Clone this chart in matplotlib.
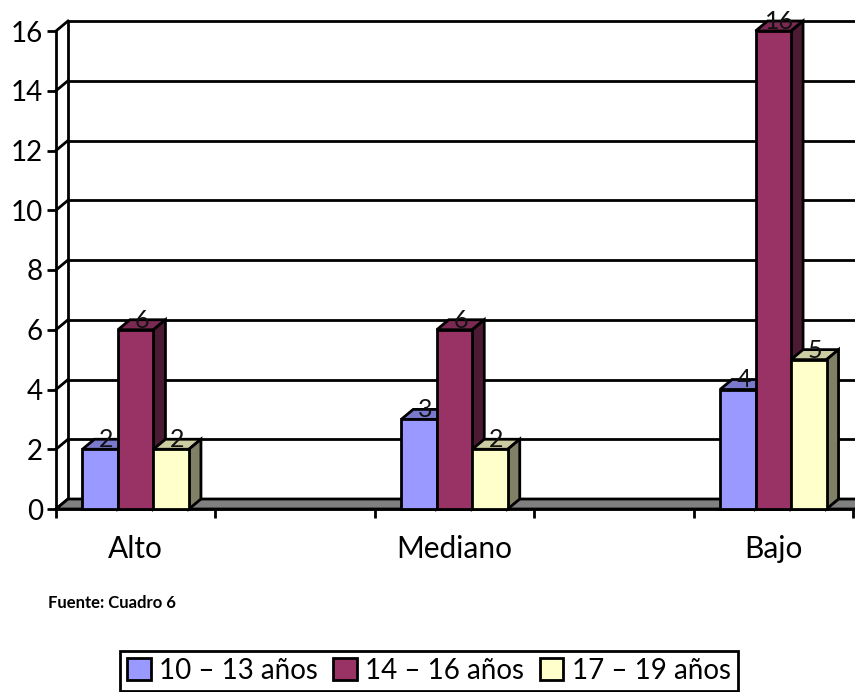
#!/usr/bin/python

import matplotlib
matplotlib.use('Agg')
import matplotlib.pyplot as plt
from matplotlib.patches import Patch, Polygon

plt.rcParams['font.family'] = ['Lato', 'DejaVu Sans']

categories = ['Alto', '', 'Mediano', '', 'Bajo']
series_names = ['10 – 13 años', '14 – 16 años', '17 – 19 años']
values_10_13 = [2, 0, 3, 0, 4]
values_14_16 = [6, 0, 6, 0, 16]
values_17_19 = [2, 0, 2, 0, 5]
y_ticks = [0, 2, 4, 6, 8, 10, 12, 14, 16]

front_colors = ['#9999FF', '#993366', '#FFFFCC']
top_colors = ['#7A7ACC', '#7A2952', '#CCCCA3']
side_colors = ['#5C5C99', '#4D1A33', '#808066']

W, H = 855, 692
LEFT, RIGHT, BOTTOM, TOP = 56, 855, 509, 31
LW = 2.0

XMAX = (RIGHT - LEFT) / 159.4
DX = 12 / 159.4    # depth of the 3D effect, in data units
DY = 10 / 29.875
BAR_W = 35.5 / 159.4


def parallelogram(ax, pts, color, z):
    ax.add_patch(Polygon(pts, closed=True, facecolor=color, edgecolor='black',
                         linewidth=LW, joinstyle='miter', clip_on=False, zorder=z))


def draw_bar(ax, x, v, i, z):
    x1 = x + BAR_W
    parallelogram(ax, [(x, 0), (x1, 0), (x1, v), (x, v)], front_colors[i], z + 0.2)
    parallelogram(ax, [(x, v), (x1, v), (x1 + DX, v + DY), (x + DX, v + DY)], top_colors[i], z)
    parallelogram(ax, [(x1, 0), (x1 + DX, DY), (x1 + DX, v + DY), (x1, v)], side_colors[i], z + 0.1)


fig = plt.figure(figsize=(W / 100, H / 100), dpi=100)
ax = fig.add_axes([LEFT / W, (H - BOTTOM) / H, (RIGHT - LEFT) / W, (BOTTOM - TOP) / H])
ax.set_xlim(0, XMAX)
ax.set_ylim(0, 16)

for side in ['top', 'right']:
    ax.spines[side].set_visible(False)
for side in ['left', 'bottom']:
    ax.spines[side].set_linewidth(LW)
    ax.spines[side].set_zorder(1)

# back wall, side wall and floor
for t in y_ticks:
    ax.plot([DX, XMAX], [t + DY, t + DY], color='black', lw=LW, clip_on=False, zorder=1)
    ax.plot([0, DX], [t, t + DY], color='black', lw=LW, clip_on=False, zorder=1)
ax.plot([DX, DX], [DY, 16 + DY], color='black', lw=LW, clip_on=False, zorder=1)
parallelogram(ax, [(0, 0), (DX, DY), (XMAX + 0.1, DY), (XMAX + 0.1, 0)], '#808080', 2)

ax.set_yticks(y_ticks)
ax.set_xticks(range(6))
ax.set_xticks([i + 0.5 for i in range(5)], categories, minor=True)
ax.tick_params(axis='x', which='major', length=6.5, width=LW, labelbottom=False)
ax.tick_params(axis='x', which='minor', length=0, labelsize=21.5, pad=19)
ax.tick_params(axis='y', length=6.5, width=LW, labelsize=20, pad=3)

# bars are drawn left to right so the next front face hides the previous side
all_values = [values_10_13, values_14_16, values_17_19]
for c in range(len(categories)):
    for i, vals in enumerate(all_values):
        v = vals[c]
        if v == 0:
            continue
        x = c + 0.5 - 1.5 * BAR_W + i * BAR_W
        draw_bar(ax, x, v, i, 3 + c + i * 0.5)
        ax.text(x + BAR_W / 2 + 0.04, v + 0.32, str(v), ha='center', va='center',
                fontsize=18, color='#111111', clip_on=False, zorder=12)

fig.text(48 / W, 1 - 603 / H, 'Fuente: Cuadro 6', fontsize=12, fontweight='bold',
         ha='left', va='center')

handles = [Patch(facecolor=c, edgecolor='black', linewidth=LW) for c in front_colors]
leg = fig.legend(handles, series_names, loc='center', ncol=3,
                 bbox_to_anchor=(429 / W, 1 - 671 / H), frameon=True, fancybox=False,
                 edgecolor='black', framealpha=1, fontsize=20, handlelength=0.85,
                 handleheight=0.85, handletextpad=0.3, columnspacing=0.55,
                 borderpad=0.25, borderaxespad=0)
leg.get_frame().set_linewidth(LW)

fig.savefig('out.png', dpi=100)
